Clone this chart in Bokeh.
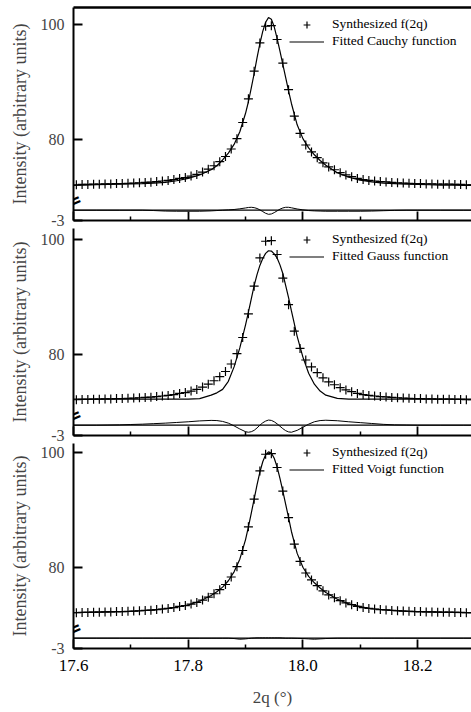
from bokeh.plotting import figure
from bokeh.models import (Range1d, LinearAxis, FixedTicker, Span, Legend, LegendItem,
                          Label, CustomJSTickFormatter, PrintfTickFormatter)
from bokeh.layouts import column
from bokeh.embed import file_html
from bokeh.resources import INLINE

# ---------------- data ----------------
x_data = [17.605, 17.615, 17.625, 17.635, 17.645, 17.655, 17.665, 17.675, 17.685, 17.695,
          17.705, 17.715, 17.725, 17.735, 17.745, 17.755, 17.765, 17.775, 17.785, 17.795,
          17.805, 17.815, 17.825, 17.835, 17.845, 17.855, 17.865, 17.875, 17.885, 17.895,
          17.905, 17.915, 17.925, 17.935, 17.945, 17.955, 17.965, 17.975, 17.985, 17.995,
          18.005, 18.015, 18.025, 18.035, 18.045, 18.055, 18.065, 18.075, 18.085, 18.095,
          18.105, 18.115, 18.125, 18.135, 18.145, 18.155, 18.165, 18.175, 18.185, 18.195,
          18.205, 18.215, 18.225, 18.235, 18.245, 18.255, 18.265, 18.275, 18.285, 18.295]
y_synth = [72.2, 72.25, 72.25, 72.3, 72.3, 72.35, 72.35, 72.4, 72.4, 72.45,
           72.5, 72.55, 72.6, 72.65, 72.75, 72.85, 72.95, 73.1, 73.3, 73.45,
           73.7, 74.0, 74.4, 74.9, 75.5, 76.2, 77.1, 78.4, 80.2, 83.0,
           87.1, 91.9, 96.8, 99.7, 99.8, 97.4, 93.3, 88.7, 84.1, 81.1,
           79.1, 77.9, 76.9, 76.0, 75.3, 74.8, 74.3, 73.9, 73.6, 73.3,
           73.1, 72.95, 72.85, 72.75, 72.7, 72.6, 72.55, 72.5, 72.45, 72.4,
           72.4, 72.35, 72.35, 72.3, 72.3, 72.3, 72.25, 72.25, 72.2, 72.2]

x_fit = [17.60, 17.62, 17.64, 17.66, 17.68, 17.70, 17.72, 17.74, 17.76, 17.78,
         17.80, 17.82, 17.84, 17.85, 17.86, 17.87, 17.88, 17.89, 17.90, 17.905,
         17.91, 17.915, 17.92, 17.925, 17.93, 17.935, 17.94, 17.945, 17.95, 17.955,
         17.96, 17.965, 17.97, 17.975, 17.98, 17.99, 18.00, 18.01, 18.02, 18.03,
         18.04, 18.06, 18.08, 18.10, 18.12, 18.14, 18.16, 18.18, 18.20, 18.22,
         18.24, 18.26, 18.28, 18.30]
fit_cauchy = [72.1, 72.15, 72.2, 72.25, 72.3, 72.35, 72.4, 72.5, 72.6, 72.9,
              73.3, 73.9, 74.8, 75.5, 76.5, 77.7, 79.2, 81.4, 84.6, 86.6,
              89.0, 91.5, 94.2, 96.7, 98.8, 100.4, 101.2, 100.9, 99.6, 97.6,
              95.4, 93.1, 90.8, 88.5, 86.3, 82.6, 80.2, 78.6, 77.4, 76.4,
              75.6, 74.3, 73.5, 73.0, 72.7, 72.5, 72.4, 72.3, 72.25, 72.2,
              72.15, 72.15, 72.1, 72.1]
fit_gauss = [72.3, 72.3, 72.3, 72.3, 72.3, 72.3, 72.3, 72.3, 72.3, 72.3,
             72.3, 72.4, 73.0, 73.4, 74.0, 75.4, 77.9, 81.2, 85.2, 87.4,
             89.7, 92.0, 93.9, 95.5, 96.7, 97.6, 98.05, 98.0, 97.5, 96.8,
             95.6, 94.1, 92.0, 89.9, 87.6, 83.2, 79.6, 76.8, 74.9, 73.7,
             73.0, 72.45, 72.3, 72.3, 72.3, 72.3, 72.3, 72.3, 72.3, 72.3,
             72.3, 72.3, 72.3, 72.3]
fit_voigt = [72.2, 72.25, 72.3, 72.35, 72.4, 72.45, 72.55, 72.7, 72.9, 73.2,
             73.55, 74.2, 75.2, 75.85, 76.65, 77.75, 79.3, 81.5, 84.9, 87.1,
             89.5, 91.9, 94.4, 96.6, 98.4, 99.6, 100.1, 99.9, 99.0, 97.5,
             95.5, 93.3, 91.0, 88.7, 86.3, 82.5, 80.1, 78.5, 77.4, 76.5,
             75.7, 74.55, 73.75, 73.25, 72.9, 72.72, 72.58, 72.48, 72.4, 72.35,
             72.3, 72.28, 72.24, 72.2]
res_cauchy = [0.0, 0.0, 0.0, 0.0, 0.0, 0.0, 0.0, -0.1, -0.25, -0.3,
              -0.3, -0.3, -0.2, -0.1, 0.0, 0.1, 0.2, 0.4, 0.65, 0.8,
              0.85, 0.75, 0.5, 0.1, -0.4, -0.9, -1.2, -1.1, -0.7, -0.2,
              0.3, 0.65, 0.85, 0.85, 0.7, 0.35, 0.1, -0.1, -0.2, -0.25,
              -0.3, -0.3, -0.3, -0.3, -0.25, -0.15, -0.05, 0.0, 0.0, 0.0,
              0.0, 0.0, 0.0, 0.0]
res_gauss = [0.0, 0.0, 0.0, 0.05, 0.1, 0.2, 0.3, 0.45, 0.6, 0.8,
             1.0, 1.25, 1.4, 1.35, 1.1, 0.6, -0.2, -1.1, -1.9, -2.05,
             -1.9, -1.5, -0.8, 0.0, 0.7, 1.2, 1.5, 1.4, 1.0, 0.4,
             -0.3, -1.0, -1.6, -1.95, -2.05, -1.5, -0.6, 0.3, 1.0, 1.35,
             1.45, 1.3, 1.0, 0.75, 0.5, 0.25, 0.1, 0.05, 0.0, 0.0,
             0.0, 0.0, 0.0, 0.0]
res_voigt = [0.0, 0.0, 0.0, 0.0, 0.0, 0.0, 0.0, 0.0, 0.0, 0.0,
             0.0, 0.0, 0.0, 0.0, 0.0, 0.0, -0.1, -0.3, -0.2, -0.1,
             0.0, 0.05, 0.1, 0.1, 0.1, 0.1, 0.1, 0.1, 0.1, 0.1,
             0.1, 0.05, 0.0, 0.0, 0.0, -0.05, -0.1, -0.2, -0.3, -0.2,
             -0.1, 0.0, 0.0, 0.0, 0.0, 0.0, 0.0, 0.0, 0.0, 0.0,
             0.0, 0.0, 0.0, 0.0]

synth_label = "Synthesized f(2q)"
fit_labels = ["Fitted Cauchy function", "Fitted Gauss function", "Fitted Voigt function"]
x_ticks = [17.6, 17.8, 18.0, 18.2]
x_minor_ticks = [17.7, 17.9, 18.1, 18.3]
y_ticks = [80, 100]
res_bottom_label = "-3"
y_title = "Intensity (arbitrary units)"
x_title = "2q (\u00b0)"

# ---------------- layout constants ----------------
FONT = "Liberation Serif"
W = 471
LEFT = 73
PX_PER_X = 573.5
X0 = 17.6
X1 = X0 + (W - LEFT) / PX_PER_X

Y_BOT = 66            # main-range value at the frame bottom (same place as residual -3)
BOT_TO_100 = 196      # px from frame bottom to the 100 tick
y_scale = BOT_TO_100 / (100 - Y_BOT)
R_BOT = -3
R_ZERO_PX = 10.3      # px from frame bottom to the residual zero line
r_scale = R_ZERO_PX / 3.0
BREAK_PX = 20
ROW_H = 17


def make_panel(fit, res, fit_label, top_b, frame_h, bot_b, last):
    p = figure(width=W, height=top_b + frame_h + bot_b,
               x_range=Range1d(X0, X1),
               y_range=Range1d(Y_BOT, Y_BOT + frame_h / y_scale),
               output_backend="svg", toolbar_location=None,
               x_axis_location=None, y_axis_location=None,
               min_border_left=LEFT, min_border_right=0,
               min_border_top=top_b, min_border_bottom=bot_b)
    p.extra_y_ranges = {"res": Range1d(R_BOT, R_BOT + frame_h / r_scale)}
    p.grid.grid_line_color = None
    p.outline_line_color = None
    p.background_fill_color = "white"
    p.border_fill_color = "white"

    # x axis (ticks pointing inward)
    xa = LinearAxis(ticker=FixedTicker(ticks=x_ticks, minor_ticks=x_minor_ticks),
                    axis_line_width=2, axis_line_color="black",
                    major_tick_in=9, major_tick_out=0, major_tick_line_width=1.8,
                    minor_tick_in=4, minor_tick_out=0, minor_tick_line_width=1.5)
    if last:
        xa.formatter = PrintfTickFormatter(format="%.1f")
        xa.major_label_text_font = FONT
        xa.major_label_text_font_size = "17px"
        xa.major_label_text_color = "black"
        xa.major_label_standoff = 11
        xa.axis_label = x_title
        xa.axis_label_text_font = FONT
        xa.axis_label_text_font_size = "17px"
        xa.axis_label_text_font_style = "normal"
        xa.axis_label_standoff = 14
    else:
        xa.formatter = CustomJSTickFormatter(code="return ''")
        xa.major_label_text_font_size = "0px"
        xa.major_label_standoff = 0
    p.add_layout(xa, "below")

    # y axis: main scale ticks plus the residual's -3 at the frame bottom
    ya = LinearAxis(ticker=FixedTicker(ticks=[Y_BOT] + y_ticks),
                    major_label_overrides={Y_BOT: res_bottom_label},
                    axis_line_width=2, axis_line_color="black",
                    major_tick_in=9, major_tick_out=0, major_tick_line_width=1.8,
                    minor_tick_line_color=None,
                    major_label_text_font=FONT, major_label_text_font_size="16px",
                    major_label_standoff=9,
                    axis_label=y_title, axis_label_text_font=FONT,
                    axis_label_text_font_size="18px", axis_label_text_font_style="normal",
                    axis_label_standoff=8)
    p.add_layout(ya, "left")

    if top_b > 2:
        ta = LinearAxis(ticker=FixedTicker(ticks=[]), axis_line_width=2.3,
                        major_tick_out=0, major_tick_in=0, minor_tick_out=0, minor_tick_in=0,
                        major_label_text_font_size="0px", major_label_standoff=0,
                        formatter=CustomJSTickFormatter(code="return ''"))
        p.add_layout(ta, "above")

    # residual zero line
    p.add_layout(Span(location=0, dimension="width", y_range_name="res",
                      line_color="black", line_width=1.3))

    # axis break mark
    p.add_layout(Label(x=X0, y=Y_BOT + BREAK_PX / y_scale, text="=", angle=0.4,
                       text_align="center", text_baseline="middle",
                       text_font="DejaVu Sans", text_font_size="19px",
                       text_font_style="bold", text_color="black"))

    pts = p.scatter(x_data, y_synth, marker="cross", size=9,
                    line_color="black", line_width=1.2)
    ln = p.line(x_fit, fit, line_color="black", line_width=1.2)
    p.line(x_fit, res, y_range_name="res", line_color="black", line_width=1)

    leg_top = frame_h - BOT_TO_100 - ROW_H / 2      # px from frame top to legend top
    leg = Legend(items=[LegendItem(label=synth_label, renderers=[pts]),
                        LegendItem(label=fit_label, renderers=[ln])],
                 location=(216, frame_h - leg_top - 2 * ROW_H),
                 padding=0, margin=0, spacing=0,
                 glyph_width=35, glyph_height=ROW_H, label_height=ROW_H,
                 label_standoff=8, border_line_color=None,
                 background_fill_alpha=0,
                 label_text_font=FONT, label_text_font_size="13.5px",
                 label_text_color="black")
    p.add_layout(leg, "center")
    return p


# panel frames end at y = 220, 435, 648 (page pixels)
p1 = make_panel(fit_cauchy, res_cauchy, fit_labels[0], 7, 213, 8, False)
p2 = make_panel(fit_gauss, res_gauss, fit_labels[1], 0, 207, 8, False)
p3 = make_panel(fit_voigt, res_voigt, fit_labels[2], 0, 205, 64, True)

layout = column(p1, p2, p3, spacing=0)
open("out.html", "w").write(file_html(layout, INLINE))
